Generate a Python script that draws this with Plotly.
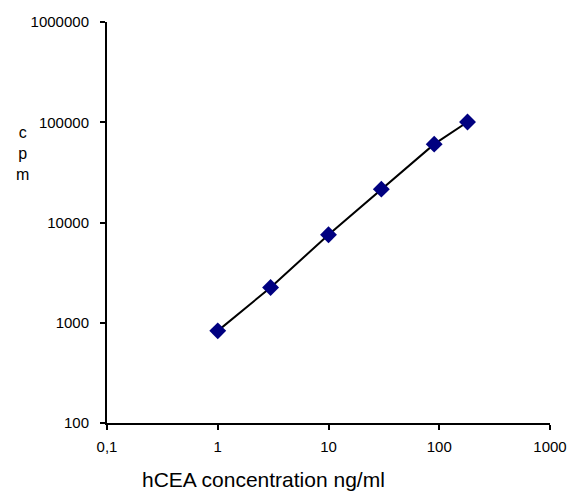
import plotly.graph_objects as go

conc = [1, 3, 10, 30, 90, 180]
cpm = [830, 2250, 7550, 21500, 60500, 100500]

x_tickvals = [0.1, 1, 10, 100, 1000]
x_ticktext = ["0,1", "1", "10", "100", "1000"]
y_tickvals = [100, 1000, 10000, 100000, 1000000]
y_ticktext = ["100", "1000", "10000", "100000", "1000000"]

fig = go.Figure()
fig.add_trace(go.Scatter(
    x=conc, y=cpm, mode="lines+markers",
    line=dict(color="black", width=2),
    marker=dict(symbol="diamond", size=13, color="#000080", line=dict(width=0)),
    showlegend=False, cliponaxis=False,
))

font = "Liberation Sans, Arial, sans-serif"
fig.update_xaxes(
    type="log", range=[-1, 3], tickvals=x_tickvals, ticktext=x_ticktext,
    showgrid=False, zeroline=False, showline=True, linecolor="black", linewidth=2,
    ticks="outside", ticklen=5, tickwidth=2, tickcolor="black",
    tickfont=dict(family=font, size=15, color="black"),
    ticklabelstandoff=4, automargin=False,
)
fig.update_yaxes(
    type="log", range=[2, 6], tickvals=y_tickvals, ticktext=y_ticktext,
    showgrid=False, zeroline=False, showline=True, linecolor="black", linewidth=2,
    ticks="outside", ticklen=5, tickwidth=2, tickcolor="black",
    tickfont=dict(family=font, size=15, color="black"),
    ticklabelstandoff=8, automargin=False,
)
fig.add_annotation(
    text="hCEA concentration ng/ml", xref="paper", yref="paper",
    x=0.354, y=-0.142, xanchor="center", yanchor="middle", showarrow=False,
    font=dict(family=font, size=21, color="black"),
)
fig.add_annotation(
    text="c<br>p<br>m", xref="paper", yref="paper",
    x=-0.19, y=0.673, xanchor="center", yanchor="middle", showarrow=False,
    font=dict(family=font, size=16, color="black"),
)
fig.update_layout(
    width=567, height=483,
    margin=dict(l=99, r=25, t=14, b=68),
    paper_bgcolor="white", plot_bgcolor="white",
)
fig.write_html("out.html")
